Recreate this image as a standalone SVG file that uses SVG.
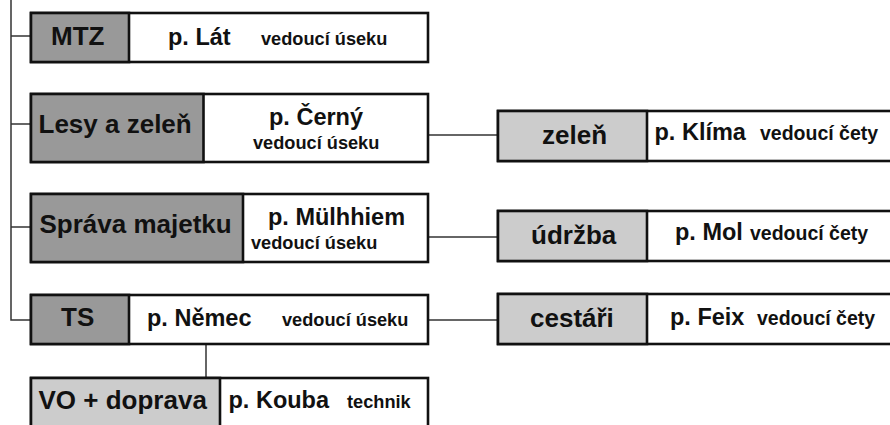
<svg xmlns="http://www.w3.org/2000/svg" width="890" height="425" viewBox="0 0 890 425">
<style>
.box{stroke:#111;stroke-width:2.6;}
.dark{fill:#999999;}
.light{fill:#cccccc;}
.white{fill:#ffffff;}
.div{stroke:#111;stroke-width:2;fill:none;}
.con{stroke:#333;stroke-width:1.5;fill:none;}
text{font-family:"Liberation Sans",Arial,sans-serif;font-weight:bold;fill:#111;}
.cat{font-size:26px;}
.name{font-size:23.5px;}
.sm{font-size:18.2px;}
.sm2{font-size:19.5px;}
</style>
<rect width="890" height="425" fill="#ffffff"/>
<g id="connectors">
<path class="con" d="M11,0 V320 H31"/>
<path class="con" d="M11,36 H31"/>
<path class="con" d="M11,124 H31"/>
<path class="con" d="M11,227 H31"/>
<path class="con" d="M428,135 H498"/>
<path class="con" d="M428,237 H498"/>
<path class="con" d="M428,320 H498"/>
<path class="con" d="M206,344 V378"/>
</g>
<g id="mtz">
<rect class="box white" x="31" y="13" width="397" height="49"/>
<rect class="box dark" x="31" y="13" width="98" height="49"/>
<text class="cat" x="51" y="45">MTZ</text>
<text class="name" x="168" y="45">p. Lát</text>
<text class="sm" x="261" y="44.5">vedoucí úseku</text>
</g>
<g id="lesy">
<rect class="box white" x="31" y="94" width="397" height="68"/>
<rect class="box dark" x="31" y="94" width="172.5" height="68"/>
<text class="cat" x="38.5" y="133">Lesy a zeleň</text>
<text class="name" x="269" y="125">p. Černý</text>
<text class="sm" x="253" y="148.5">vedoucí úseku</text>
</g>
<g id="sprava">
<rect class="box white" x="31" y="194" width="397" height="68"/>
<rect class="box dark" x="31" y="194" width="212" height="68"/>
<text class="cat" x="39.5" y="233">Správa majetku</text>
<text class="name" x="268" y="225">p. Mülhhiem</text>
<text class="sm" x="251" y="248.5">vedoucí úseku</text>
</g>
<g id="ts">
<rect class="box white" x="31" y="295" width="397" height="49"/>
<rect class="box dark" x="31" y="295" width="98" height="49"/>
<text class="cat" x="61" y="326">TS</text>
<text class="name" x="147" y="326">p. Němec</text>
<text class="sm" x="282" y="325.5">vedoucí úseku</text>
</g>
<g id="vo">
<rect class="box white" x="31" y="378" width="397" height="60"/>
<rect class="box light" x="31" y="378" width="189" height="60"/>
<text class="cat" x="38.5" y="408.5">VO + doprava</text>
<text class="name" x="228.5" y="408">p. Kouba</text>
<text class="sm" x="347" y="408" font-size="17.3">technik</text>
</g>
<g id="zelen">
<rect class="box white" x="498" y="111" width="410" height="50"/>
<rect class="box light" x="498" y="111" width="149" height="50"/>
<text class="cat" x="542" y="143.5">zeleň</text>
<text class="name" x="654.5" y="140">p. Klíma</text>
<text class="sm2" x="760" y="140">vedoucí čety</text>
</g>
<g id="udrzba">
<rect class="box white" x="498" y="211" width="410" height="50"/>
<rect class="box light" x="498" y="211" width="149" height="50"/>
<text class="cat" x="531" y="243.5">údržba</text>
<text class="name" x="675" y="240">p. Mol</text>
<text class="sm2" x="750" y="240">vedoucí čety</text>
</g>
<g id="cestari">
<rect class="box white" x="498" y="294" width="410" height="50"/>
<rect class="box light" x="498" y="294" width="149" height="50"/>
<text class="cat" x="530" y="326.5">cestáři</text>
<text class="name" x="670" y="325">p. Feix</text>
<text class="sm2" x="757" y="325">vedoucí čety</text>
</g>
</svg>
